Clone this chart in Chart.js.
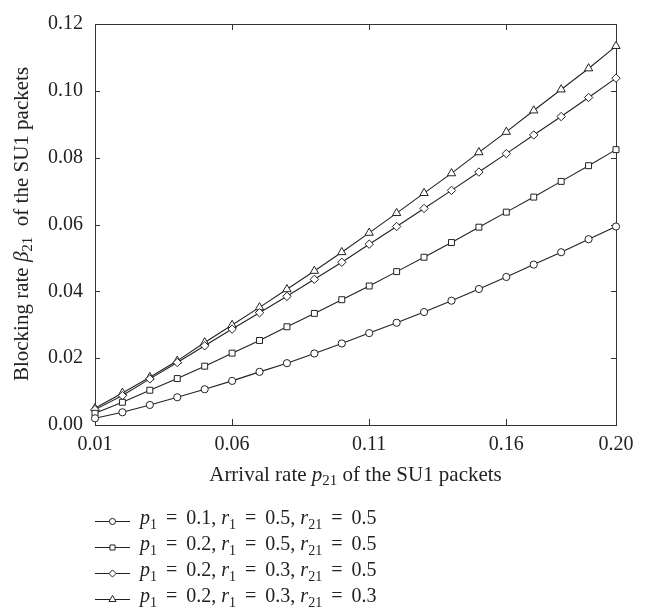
<!DOCTYPE html>
<html>
<head>
<meta charset="utf-8">
<script src="https://cdn.jsdelivr.net/npm/chart.js@4.4.1/dist/chart.umd.min.js"></script>
<style>
  html, body { margin: 0; padding: 0; background: #fff; }
</style>
</head>
<body>
<canvas id="chart" width="657" height="614"></canvas>
<script>
// arrival rate p21 of the SU1 packets
const arrivalRates = [0.01, 0.02, 0.03, 0.04, 0.05, 0.06, 0.07, 0.08, 0.09, 0.10,
                      0.11, 0.12, 0.13, 0.14, 0.15, 0.16, 0.17, 0.18, 0.19, 0.20];
const xTicks = [0.01, 0.06, 0.11, 0.16, 0.20];
const yTicks = [0.00, 0.02, 0.04, 0.06, 0.08, 0.10, 0.12];

// blocking rate beta21
const p01r05r05 = [0.0020, 0.0038, 0.0060, 0.0083, 0.0107, 0.0132, 0.0159, 0.0185, 0.0214, 0.0244,
                   0.0275, 0.0306, 0.0338, 0.0372, 0.0407, 0.0443, 0.0480, 0.0517, 0.0556, 0.0594];
const p02r05r05 = [0.0035, 0.0068, 0.0104, 0.0139, 0.0176, 0.0215, 0.0253, 0.0294, 0.0334, 0.0375,
                   0.0416, 0.0459, 0.0502, 0.0546, 0.0592, 0.0637, 0.0682, 0.0729, 0.0776, 0.0824];
const p02r03r05 = [0.0046, 0.0088, 0.0138, 0.0187, 0.0237, 0.0287, 0.0336, 0.0385, 0.0436, 0.0487,
                   0.0541, 0.0594, 0.0648, 0.0702, 0.0757, 0.0812, 0.0868, 0.0923, 0.0980, 0.1038];
const p02r03r03 = [0.0050, 0.0096, 0.0143, 0.0192, 0.0247, 0.0299, 0.0352, 0.0406, 0.0461, 0.0517,
                   0.0575, 0.0634, 0.0694, 0.0753, 0.0816, 0.0877, 0.0941, 0.1004, 0.1067, 0.1134];

// legend labels: [text, style] with n = normal, i = italic, s = subscript, m = spaced operator
const legendLabels = [
  [['p', 'i'], ['1', 's'], ['=', 'm'], ['0.1, ', 'n'], ['r', 'i'], ['1', 's'], ['=', 'm'], ['0.5, ', 'n'], ['r', 'i'], ['21', 's'], ['=', 'm'], ['0.5', 'n']],
  [['p', 'i'], ['1', 's'], ['=', 'm'], ['0.2, ', 'n'], ['r', 'i'], ['1', 's'], ['=', 'm'], ['0.5, ', 'n'], ['r', 'i'], ['21', 's'], ['=', 'm'], ['0.5', 'n']],
  [['p', 'i'], ['1', 's'], ['=', 'm'], ['0.2, ', 'n'], ['r', 'i'], ['1', 's'], ['=', 'm'], ['0.3, ', 'n'], ['r', 'i'], ['21', 's'], ['=', 'm'], ['0.5', 'n']],
  [['p', 'i'], ['1', 's'], ['=', 'm'], ['0.2, ', 'n'], ['r', 'i'], ['1', 's'], ['=', 'm'], ['0.3, ', 'n'], ['r', 'i'], ['21', 's'], ['=', 'm'], ['0.3', 'n']],
];
const xTitle = [['Arrival rate ', 'n'], ['p', 'i'], ['21', 's'], [' of the SU1 packets', 'n']];
const yTitle = [['Blocking rate ', 'n'], ['β', 'i'], ['21', 's'], ['  of the SU1 packets', 'n']];

const INK = '#222';
const FONT = '"Liberation Serif", "DejaVu Serif", serif';
const FS = 20;
const TITLE_FS = 21;
const OP_GAP = 9;

function partFont(style, size) {
  if (style === 's') return `${Math.round(size * 0.7)}px ${FONT}`;
  if (style === 'i') return `italic ${size}px ${FONT}`;
  return `${size}px ${FONT}`;
}

function partWidth(ctx, t, st, size) {
  ctx.font = partFont(st, size);
  return ctx.measureText(t).width + (st === 'm' ? 2 * OP_GAP : 0);
}

function richWidth(ctx, parts, size) {
  return parts.reduce((w, [t, st]) => w + partWidth(ctx, t, st, size), 0);
}

// draws mixed text with its left edge at x (or centred), vertical middle at y
function drawRich(ctx, parts, x, y, size, center) {
  ctx.save();
  ctx.fillStyle = INK;
  ctx.textBaseline = 'middle';
  ctx.textAlign = 'left';
  let cx = center ? x - richWidth(ctx, parts, size) / 2 : x;
  parts.forEach(([t, st]) => {
    const w = partWidth(ctx, t, st, size);
    ctx.font = partFont(st, size);
    ctx.fillText(t, cx + (st === 'm' ? OP_GAP : 0), st === 's' ? y + size * 0.3 : y);
    cx += w;
  });
  ctx.restore();
}

const series = [
  { data: p01r05r05, style: 'circle', radius: 3.6 },
  { data: p02r05r05, style: 'rect', radius: 4.2 },
  { data: p02r03r05, style: 'rectRot', radius: 4.2 },
  { data: p02r03r03, style: 'triangle', radius: 4.8 },
];

const framePlugin = {
  id: 'frame',
  beforeDatasetsDraw(chart) {
    const { ctx, chartArea: a, scales } = chart;
    ctx.save();
    ctx.strokeStyle = '#333';
    ctx.lineWidth = 1;
    ctx.strokeRect(a.left + 0.5, a.top + 0.5, a.right - a.left, a.bottom - a.top);
    ctx.beginPath();
    xTicks.forEach(v => {
      const px = Math.round(scales.x.getPixelForValue(v)) + 0.5;
      ctx.moveTo(px, a.bottom); ctx.lineTo(px, a.bottom - 6);
      ctx.moveTo(px, a.top); ctx.lineTo(px, a.top + 6);
    });
    yTicks.forEach(v => {
      const py = Math.round(scales.y.getPixelForValue(v)) + 0.5;
      ctx.moveTo(a.left, py); ctx.lineTo(a.left + 5, py);
      ctx.moveTo(a.right, py); ctx.lineTo(a.right - 5, py);
    });
    ctx.stroke();
    ctx.restore();
  },
  afterDraw(chart) {
    const { ctx, chartArea: a } = chart;
    // axis titles
    drawRich(ctx, xTitle, (a.left + a.right) / 2, 475, TITLE_FS, true);
    ctx.save();
    ctx.translate(22, 224);
    ctx.rotate(-Math.PI / 2);
    drawRich(ctx, yTitle, 0, 0, TITLE_FS, true);
    ctx.restore();
    // legend
    legendLabels.forEach((parts, i) => {
      const y = 521 + i * 26;
      const ds = chart.data.datasets[i];
      ctx.save();
      ctx.strokeStyle = INK;
      ctx.lineWidth = 1;
      ctx.beginPath();
      ctx.moveTo(95, y + 0.5); ctx.lineTo(130, y + 0.5);
      ctx.stroke();
      ctx.fillStyle = '#fff';
      Chart.helpers.drawPoint(ctx, { pointStyle: ds.pointStyle, radius: ds.pointRadius * 0.85, borderWidth: 1 }, 112.5, y + 0.5);
      ctx.restore();
      drawRich(ctx, parts, 140, y - 2, FS, false);
    });
  }
};

new Chart(document.getElementById('chart'), {
  type: 'line',
  data: {
    datasets: series.map(s => ({
      data: s.data.map((v, i) => ({ x: arrivalRates[i], y: v })),
      borderColor: INK,
      borderWidth: 1.1,
      pointStyle: s.style,
      pointRadius: s.radius,
      pointBorderWidth: 1,
      pointBorderColor: INK,
      pointBackgroundColor: '#fff',
      tension: 0,
      clip: false,
    })),
  },
  options: {
    responsive: false,
    animation: false,
    devicePixelRatio: 1,
    layout: { padding: { left: 0, right: 41, top: 15, bottom: 0 } },
    plugins: { legend: { display: false }, tooltip: { enabled: false } },
    scales: {
      x: {
        type: 'linear',
        min: 0.01,
        max: 0.20,
        grid: { display: false, drawTicks: false },
        border: { display: false },
        afterBuildTicks: s => { s.ticks = xTicks.map(v => ({ value: v })); },
        afterFit: s => { s.height = 189; },
        ticks: {
          padding: 8,
          color: INK,
          font: { family: FONT, size: FS },
          maxRotation: 0,
          autoSkip: false,
          callback: v => v.toFixed(2),
        },
      },
      y: {
        min: 0,
        max: 0.12,
        grid: { display: false, drawTicks: false },
        border: { display: false },
        afterBuildTicks: s => { s.ticks = yTicks.map(v => ({ value: v })); },
        afterFit: s => { s.width = 95; },
        ticks: {
          padding: 12,
          color: INK,
          font: { family: FONT, size: FS },
          callback: v => v.toFixed(2),
        },
      },
    },
  },
  plugins: [framePlugin],
});
</script>
</body>
</html>
